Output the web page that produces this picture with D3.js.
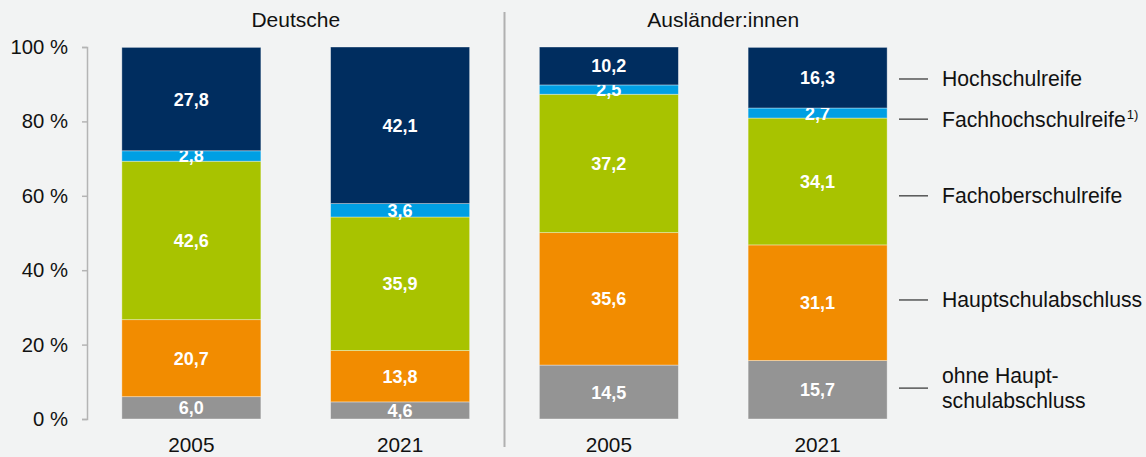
<!DOCTYPE html>
<html>
<head>
<meta charset="utf-8">
<script src="https://cdn.jsdelivr.net/npm/d3@7"></script>
<style>
  html, body { margin: 0; padding: 0; background: #f2f3f3; }
  svg { display: block; font-family: "Liberation Sans", Arial, sans-serif; }
  .tick text { font-size: 20.3px; fill: #111; }
  .valLb { font-size: 18px; font-weight: bold; fill: #fff; text-anchor: middle; }
</style>
</head>
<body>
<div id="main"></div>
<script>
// categories, bottom to top
var categories = ["ohne Hauptschulabschluss", "Hauptschulabschluss", "Fachoberschulreife", "Fachhochschulreife", "Hochschulreife"];
var groups = ["Deutsche", "Ausländer:innen"];
var years = ["2005", "2021"];
// shares in % per bar (same order as categories)
var deutsche2005 = [6.0, 20.7, 42.6, 2.8, 27.8];
var deutsche2021 = [4.6, 13.8, 35.9, 3.6, 42.1];
var auslaender2005 = [14.5, 35.6, 37.2, 2.5, 10.2];
var auslaender2021 = [15.7, 31.1, 34.1, 2.7, 16.3];
var yTicks = [0, 20, 40, 60, 80, 100];
// legend label lines and where they sit (in % of the y axis)
var legendLabels = [["ohne Haupt-", "schulabschluss"], ["Hauptschulabschluss"], ["Fachoberschulreife"], ["Fachhochschulreife"], ["Hochschulreife"]];
var legendPos = [8.3, 32, 60, 80.6, 91.4];

var ctx = {
    w: 1146,
    h: 457,
    colors: ["#949494", "#f28c00", "#a8c300", "#009fe3", "#002d5f"]
};

var bars = [
    { group: groups[0], year: years[0], vals: deutsche2005 },
    { group: groups[0], year: years[1], vals: deutsche2021 },
    { group: groups[1], year: years[0], vals: auslaender2005 },
    { group: groups[1], year: years[1], vals: auslaender2021 }
];

var createViz = function() {
    var svg = d3.select("#main").append("svg")
        .attr("width", ctx.w)
        .attr("height", ctx.h);

    ctx.xScale = d3.scaleBand()
        .domain(d3.range(bars.length))
        .range([87, 922])
        .paddingInner(0.334)
        .paddingOuter(0.167);
    ctx.yScale = d3.scaleLinear().domain([0, 100]).range([419, 47]);
    var color = d3.scaleOrdinal().domain(categories).range(ctx.colors);

    // y axis
    var yAxis = svg.append("g")
        .attr("transform", "translate(87,0)")
        .call(d3.axisLeft(ctx.yScale).tickValues(yTicks).tickSize(5).tickPadding(14)
            .tickFormat(d => d + " %"));
    yAxis.select(".domain").attr("stroke", "#b4b4b4").attr("stroke-width", 1.5);
    yAxis.selectAll(".tick line").attr("stroke", "#b4b4b4").attr("stroke-width", 1.5);
    yAxis.selectAll(".tick text").attr("font-family", null).attr("font-size", null);

    // stacked bars
    bars.forEach((b, i) => {
        var base = 0;
        var g = svg.append("g");
        b.vals.forEach((v, k) => {
            var y0 = ctx.yScale(base), y1 = ctx.yScale(base + v);
            g.append("rect")
                .attr("x", ctx.xScale(i))
                .attr("y", y1)
                .attr("width", ctx.xScale.bandwidth())
                .attr("height", y0 - y1)
                .attr("fill", color(categories[k]))
                .attr("stroke", "#ffffff")
                .attr("stroke-opacity", 0.45)
                .attr("stroke-width", 0.8);
            g.append("text")
                .attr("class", "valLb")
                .attr("x", ctx.xScale(i) + ctx.xScale.bandwidth() / 2)
                .attr("y", (y0 + y1) / 2)
                .attr("dy", "0.36em")
                .text(d3.format(".1f")(v).replace(".", ","));
            base += v;
        });
        // year label
        svg.append("text")
            .attr("x", ctx.xScale(i) + ctx.xScale.bandwidth() / 2)
            .attr("y", 452)
            .attr("text-anchor", "middle")
            .attr("font-size", 20.8)
            .attr("fill", "#111")
            .text(b.year);
    });

    // group titles
    groups.forEach((gname, j) => {
        var a = ctx.xScale(j * 2) + ctx.xScale.bandwidth() / 2;
        var c = ctx.xScale(j * 2 + 1) + ctx.xScale.bandwidth() / 2;
        svg.append("text")
            .attr("x", (a + c) / 2 + (j === 1 ? 10 : 0))
            .attr("y", 27)
            .attr("text-anchor", "middle")
            .attr("font-size", 21)
            .attr("fill", "#111")
            .text(gname);
    });

    // divider between groups
    var xDiv = (ctx.xScale(1) + ctx.xScale.bandwidth() + ctx.xScale(2)) / 2;
    svg.append("line")
        .attr("x1", xDiv).attr("x2", xDiv)
        .attr("y1", 12).attr("y2", 447)
        .attr("stroke", "#b0b0b0")
        .attr("stroke-width", 2);

    // legend
    var leg = svg.append("g");
    legendLabels.forEach((lines, k) => {
        var y = ctx.yScale(legendPos[k]);
        leg.append("line")
            .attr("x1", 899).attr("x2", 928)
            .attr("y1", y).attr("y2", y)
            .attr("stroke", "#555")
            .attr("stroke-width", 1.5);
        var t = leg.append("text")
            .attr("x", 942)
            .attr("font-size", 21.2)
            .attr("fill", "#111");
        lines.forEach((ln, m) => {
            t.append("tspan")
                .attr("x", 942)
                .attr("y", y + 7.5 + (m - (lines.length - 1) / 2) * 25)
                .text(ln);
        });
        if (categories[k] === "Fachhochschulreife") {
            t.append("tspan")
                .attr("dx", 1)
                .attr("dy", -8)
                .attr("font-size", 13)
                .text("1)");
        }
    });
};

createViz();
</script>
</body>
</html>
